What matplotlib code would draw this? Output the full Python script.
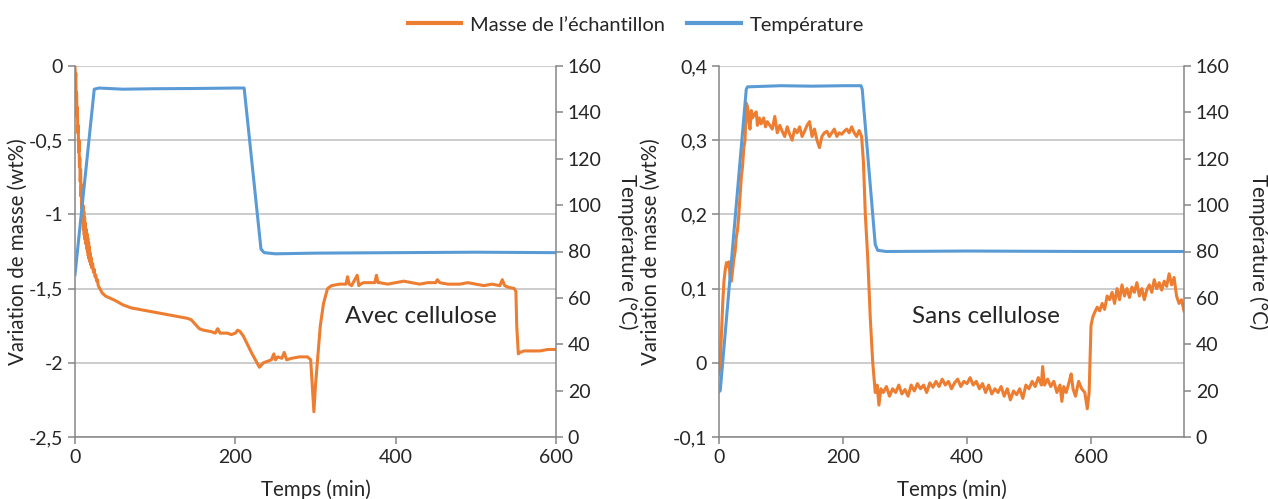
import matplotlib
matplotlib.use("Agg")
import matplotlib.pyplot as plt
from matplotlib.lines import Line2D
from matplotlib.ticker import FixedLocator, FuncFormatter

plt.rcParams["font.family"] = ["Lato", "DejaVu Sans"]

ORANGE = "#ED7D31"
BLUE = "#5B9BD5"
GRID = "#BFBFBF"
AXC = "#868686"
TXT = "#262626"

# ---------- Avec cellulose (left panel) ----------
avec_t_mass = [0, 0.5, 1, 1.5, 2, 2.5, 3, 3.5, 4, 4.5, 5, 5.5, 6, 6.5, 7, 7.5, 8, 8.5, 9,
               9.5, 10, 10.5, 11, 11.5, 12, 12.5, 13, 13.5, 14, 14.5, 15, 15.5, 16, 16.5,
               17, 17.5, 18, 18.5, 19, 19.5, 20, 21, 22, 23, 24, 25, 26, 27, 28, 29, 30,
               34, 38, 42, 50, 60, 70, 80, 90, 100, 110, 120, 130, 140,
               145, 150, 155, 160, 170, 175, 178, 181, 190, 195, 200, 203, 206, 210, 220,
               230, 235, 240, 245, 248, 250, 253, 258, 261, 264, 270, 280, 290, 294, 296,
               298, 300, 303, 306, 310, 315, 320, 330, 338, 340, 342, 345, 348, 352, 354,
               356, 360, 370, 374, 376, 378, 380, 390, 400, 410, 420, 430, 440, 450, 452,
               455, 465, 480, 490, 500, 510, 520, 530, 533, 536, 540, 548, 550, 551, 553,
               555, 560, 570, 580, 590, 600]
avec_mass = [0, -0.1, -0.05, -0.22, -0.18, -0.34, -0.28, -0.45, -0.4, -0.58, -0.5, -0.68,
             -0.62, -0.78, -0.7, -0.88, -0.8, -0.96, -0.88, -1.04, -0.94, -1.1, -0.98,
             -1.14, -1.02, -1.17, -1.06, -1.2, -1.1, -1.23, -1.13, -1.25, -1.16, -1.28,
             -1.19, -1.3, -1.22, -1.32, -1.26, -1.34, -1.29, -1.36, -1.33, -1.39, -1.37,
             -1.42, -1.41, -1.45, -1.44, -1.48, -1.49,
             -1.53, -1.55, -1.56, -1.58, -1.61, -1.63, -1.64, -1.65, -1.66, -1.67, -1.68,
             -1.69, -1.7, -1.71, -1.74, -1.77, -1.78, -1.79, -1.8, -1.77, -1.8, -1.8,
             -1.81, -1.8, -1.78, -1.79, -1.82, -1.93, -2.03, -2.0, -1.99, -1.98, -1.94,
             -1.98, -1.96, -1.97, -1.93, -1.98, -1.97, -1.96, -1.96, -1.98, -2.15, -2.33,
             -2.15, -1.95, -1.75, -1.6, -1.5, -1.48, -1.47, -1.47, -1.42, -1.47, -1.48,
             -1.45, -1.41, -1.48, -1.47, -1.46, -1.46, -1.46, -1.41, -1.46, -1.46, -1.47,
             -1.46, -1.45, -1.46, -1.47, -1.46, -1.46, -1.44, -1.46, -1.47, -1.47, -1.46,
             -1.47, -1.48, -1.47, -1.48, -1.44, -1.48, -1.49, -1.5, -1.52, -1.75, -1.94,
             -1.93, -1.92, -1.92, -1.92, -1.91, -1.91]

avec_t_temp = [0, 24, 30, 60, 100, 150, 200, 211, 232, 236, 250, 300, 400, 500, 600]
avec_temp = [70, 150, 150.5, 150, 150.2, 150.3, 150.5, 150.5, 81, 79.5, 79, 79.3, 79.5, 79.7, 79.5]

# ---------- Sans cellulose (right panel) ----------
sans_t_mass = [0, 2, 4, 6, 8, 10, 12, 14, 16, 18, 20, 22, 24, 26, 28, 30, 32, 34, 36, 38,
               40, 42, 44, 46, 48, 50, 52, 54, 57, 60, 62, 65, 68, 72, 75, 78, 82, 86, 90,
               94, 98, 102, 106, 110, 114, 118, 122, 126, 130, 134, 138, 142, 146, 150,
               154, 158, 162, 166, 170, 174, 178, 182, 186, 190, 194, 198, 202, 206, 210,
               214, 218, 222, 226, 230, 233, 236, 240, 244, 248, 252, 255, 258, 261, 265,
               270, 275, 280, 285, 290, 295, 300, 305, 310, 315, 320, 325, 330, 335, 340,
               345, 350, 355, 360, 365, 370, 375, 380, 385, 390, 395, 400, 405, 410, 415,
               420, 425, 430, 435, 440, 445, 450, 455, 460, 465, 470, 475, 480, 485, 490,
               495, 500, 505, 510, 515, 520, 522, 525, 530, 535, 540, 545, 550, 553, 556,
               560, 565, 568, 571, 575, 580, 585, 590, 594, 597, 600, 603, 606, 610, 614,
               618, 622, 626, 630, 634, 638, 642, 646, 650, 654, 658, 662, 666, 670, 674,
               678, 682, 686, 690, 694, 698, 702, 706, 710, 714, 718, 722, 726, 730, 734,
               738, 742, 746, 750]
sans_mass = [-0.015, 0.0, 0.04, 0.08, 0.11, 0.125, 0.135, 0.13, 0.136, 0.115, 0.11, 0.125,
             0.14, 0.15, 0.17, 0.18, 0.2, 0.225, 0.25, 0.265, 0.29, 0.3, 0.35, 0.345, 0.325,
             0.315, 0.34, 0.33, 0.335, 0.338, 0.32, 0.33, 0.322, 0.33, 0.318, 0.325, 0.32,
             0.315, 0.332, 0.31, 0.32, 0.312, 0.305, 0.318, 0.308, 0.3, 0.315, 0.31, 0.318,
             0.305, 0.312, 0.32, 0.325, 0.305, 0.315, 0.3, 0.29, 0.305, 0.31, 0.312, 0.305,
             0.31, 0.315, 0.305, 0.31, 0.308, 0.312, 0.315, 0.31, 0.318, 0.31, 0.305, 0.313,
             0.305, 0.27, 0.2, 0.14, 0.06, 0.0, -0.04, -0.03, -0.057, -0.035, -0.04, -0.032,
             -0.045, -0.035, -0.04, -0.03, -0.042, -0.036, -0.045, -0.03, -0.038, -0.028,
             -0.035, -0.03, -0.04, -0.027, -0.033, -0.025, -0.032, -0.022, -0.03, -0.025,
             -0.035, -0.027, -0.022, -0.032, -0.025, -0.028, -0.02, -0.03, -0.025, -0.035,
             -0.028, -0.04, -0.03, -0.042, -0.035, -0.04, -0.032, -0.045, -0.035, -0.05,
             -0.038, -0.043, -0.035, -0.048, -0.03, -0.035, -0.025, -0.032, -0.02, -0.03,
             -0.005, -0.03, -0.022, -0.032, -0.025, -0.04, -0.03, -0.052, -0.032, -0.04,
             -0.025, -0.015, -0.035, -0.045, -0.025, -0.035, -0.04, -0.062, -0.04, 0.05,
             0.062, 0.068, 0.075, 0.07, 0.08, 0.072, 0.09, 0.085, 0.095, 0.08, 0.1, 0.085,
             0.105, 0.09, 0.1, 0.088, 0.102, 0.095, 0.108, 0.09, 0.1, 0.085, 0.098, 0.105,
             0.095, 0.112, 0.1, 0.108, 0.098, 0.11, 0.103, 0.12, 0.105, 0.115, 0.09, 0.08,
             0.085, 0.07]

sans_t_temp = [0, 2, 44, 46, 100, 150, 200, 229, 231, 252, 256, 270, 400, 600, 750]
sans_temp = [19.5, 20, 150, 151, 151.5, 151.3, 151.5, 151.5, 150, 83, 80.5, 80, 80.2, 80, 80]

x_ticks = [0, 200, 400, 600]
temp_ticks = [0, 20, 40, 60, 80, 100, 120, 140, 160]
avec_mass_ticks = [-2.5, -2, -1.5, -1, -0.5, 0]
sans_mass_ticks = [-0.1, 0, 0.1, 0.2, 0.3, 0.4]

FS_TICK = 14
FS_LAB = 14.8


def comma(v, _pos=None):
    s = f"{v:.1f}".rstrip("0").rstrip(".")
    if s in ("-0", "-0.0"):
        s = "0"
    return s.replace(".", ",")


def style_axes(ax, ax2, xlim, ylim, yticks):
    ax.set_xlim(*xlim)
    ax.set_ylim(*ylim)
    ax2.set_ylim(0, 160)
    ax.xaxis.set_major_locator(FixedLocator(x_ticks))
    ax.yaxis.set_major_locator(FixedLocator(yticks))
    ax2.yaxis.set_major_locator(FixedLocator(temp_ticks))
    ax.yaxis.set_major_formatter(FuncFormatter(comma))
    ax.grid(axis="y", color=GRID, lw=1.1)
    ax.set_axisbelow(True)
    for a in (ax, ax2):
        a.spines["top"].set_visible(False)
        for side in ("left", "right", "bottom"):
            a.spines[side].set_color(AXC)
            a.spines[side].set_linewidth(1.1)
        a.tick_params(colors=AXC, labelcolor=TXT, labelsize=FS_TICK, length=5, width=1.1)
    ax.spines["right"].set_visible(False)
    ax2.spines["left"].set_visible(False)
    ax2.spines["bottom"].set_visible(False)


fig = plt.figure(figsize=(12.68, 4.99), dpi=100)
W, H = 1268, 499
panels = [
    (75, 556, avec_t_mass, avec_mass, avec_t_temp, avec_temp, (0, 600), (-2.5, 0),
     avec_mass_ticks, "Avec cellulose", (337, -1.685), 18, 627),
    (719, 1184, sans_t_mass, sans_mass, sans_t_temp, sans_temp, (0, 750), (-0.1, 0.4),
     sans_mass_ticks, "Sans cellulose", (311, 0.063), 651, 1258),
]
for (x0, x1, tm, m, tt, temp, xlim, ylim, yticks, name, npos, ylx, y2x) in panels:
    ax = fig.add_axes([x0 / W, (H - 437) / H, (x1 - x0) / W, (437 - 66) / H])
    ax2 = ax.twinx()
    ax.plot(tm, m, color=ORANGE, lw=2.2, solid_joinstyle="round")
    ax2.plot(tt, temp, color=BLUE, lw=2.2, solid_joinstyle="round")
    style_axes(ax, ax2, xlim, ylim, yticks)
    ax.text(npos[0], npos[1], name, fontsize=17.5, color=TXT, va="center", ha="left")
    ymid = 1 - (66 + 437) / 2 / H
    fig.text(ylx / W, ymid, "Variation de masse (wt%)", rotation=90, fontsize=FS_LAB,
             color=TXT, ha="center", va="center")
    fig.text(y2x / W, ymid, "Température (°C)", rotation=270, fontsize=FS_LAB,
             color=TXT, ha="center", va="center")
    fig.text((x0 + x1) / 2 / W, 1 - 490 / H, "Temps (min)", fontsize=FS_LAB,
             color=TXT, ha="center", va="center")

handles = [Line2D([], [], color=ORANGE, lw=3), Line2D([], [], color=BLUE, lw=3)]
fig.legend(handles, ["Masse de l’échantillon", "Température"], loc="center",
           bbox_to_anchor=(636 / W, 1 - 25 / H), ncol=2, frameon=False, fontsize=14.5,
           handlelength=2.65, columnspacing=1.1, handletextpad=0.45, labelcolor=TXT,
           borderpad=0)

fig.savefig("out.png", dpi=100)
